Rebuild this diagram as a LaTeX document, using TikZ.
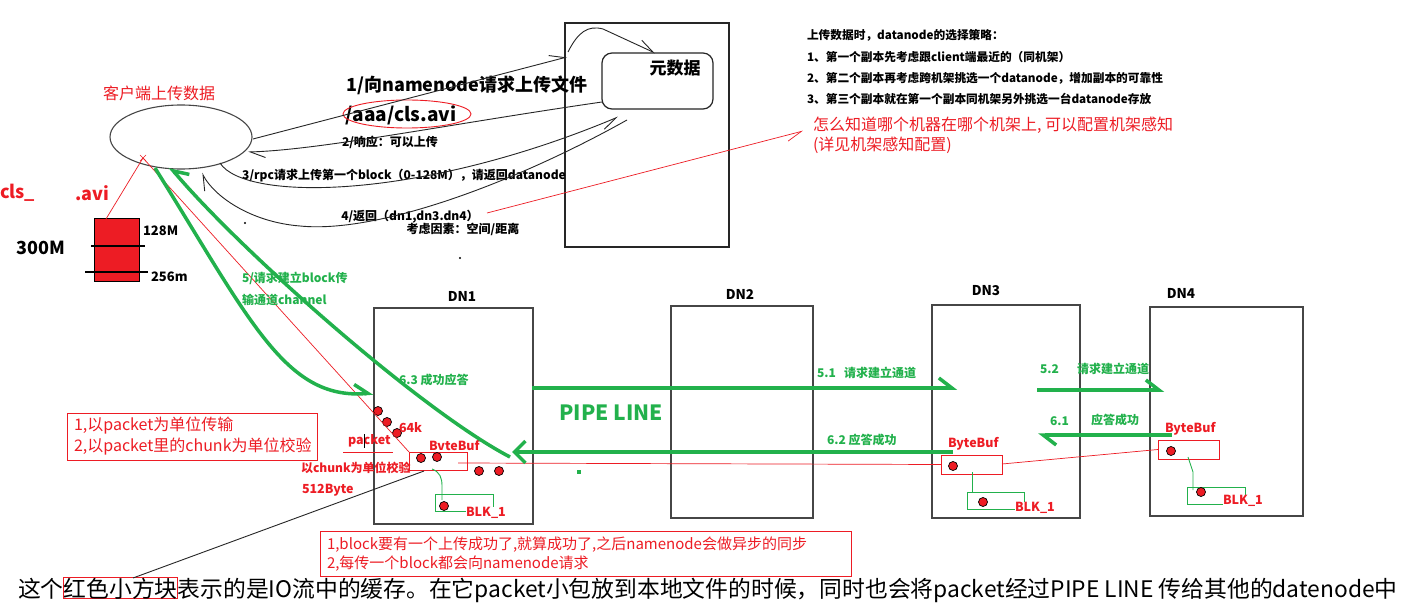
\documentclass[tikz,border=0pt]{standalone}
\usepackage{fontspec}
\setmainfont{Noto Sans CJK SC}
\usetikzlibrary{arrows.meta,shapes.geometric}
\definecolor{pgreen}{RGB}{34,177,76}
\definecolor{pred}{RGB}{237,28,36}
\definecolor{dgray}{RGB}{70,70,70}
\newcommand{\myfs}[1]{\fontsize{#1}{#1}\selectfont}
\begin{document}
\begin{tikzpicture}[x=1pt,y=-1pt,
 every node/.style={inner sep=0pt,outer sep=0pt},
 blk/.style={draw=black!85,line width=0.9pt},
 dnbox/.style={draw=dgray,line width=1.8pt,anchor=north west},
 gline/.style={draw=pgreen,line width=3.5pt},
 rline/.style={draw=pred,line width=0.7pt},
 rbox/.style={draw=pred,line width=1pt,anchor=north west},
 gbox/.style={draw=pgreen,line width=1pt,anchor=north west},
 rdot/.style={circle,fill=pred,draw=black,line width=0.7pt,minimum size=9pt},
 blbl/.style={font=\myfs{12}\bfseries,text=black},
 glbl/.style={font=\myfs{12}\bfseries,text=pgreen},
 rlbl/.style={font=\myfs{12.5}\bfseries,text=pred},
 dnlbl/.style={font=\myfs{13.5}\bfseries},
 harp/.style={-{Straight Barb[left,length=15pt,width=12pt]}},
 harpr/.style={-{Straight Barb[right,length=15pt,width=12pt]}},
 gharp/.style={-{Straight Barb[left,length=13pt,width=20pt]}},
 gharpr/.style={-{Straight Barb[right,length=13pt,width=20pt]}},
 gfull/.style={-{Straight Barb[length=11pt,width=22pt]}},
]
\fill[white] (0,0) rectangle (1411,612);
\useasboundingbox (0,0) rectangle (1411,612);

% ---------- client ----------
\node[ellipse,draw=dgray,line width=1.1pt,minimum width=142pt,minimum height=64pt] (client) at (181,137) {};
\node[font=\myfs{16},text=pred] (clientlbl) at (159,93) {客户端上传数据};
\node[font=\myfs{18}\bfseries,text=pred,anchor=west] (clsa) at (0,193) {cls\_};
\node[font=\myfs{18}\bfseries,text=pred,anchor=west] (clsb) at (75,193) {.avi};

% file block
\node[draw=black,line width=1pt,fill=pred,anchor=north west,minimum width=45pt,minimum height=63pt] (block) at (94,219) {};
\draw[black,line width=1.1pt] (91,246) -- (145,246);
\draw[black,line width=1.1pt] (85,272) -- (148,272);
\node[font=\myfs{18}\bfseries] (s300) at (41,248) {300M};
\node[font=\myfs{13}\bfseries,anchor=west] (s128) at (143,231) {128M};
\node[font=\myfs{13}\bfseries,anchor=west] (s256) at (151,277) {256m};

% ---------- namenode ----------
\node[draw=black!85,line width=1.2pt,anchor=north west,minimum width=164pt,minimum height=224pt] (nn) at (565,23) {};
\node[draw=black!85,line width=1.2pt,rounded corners=10pt,anchor=north west,minimum width=111pt,minimum height=56pt] (meta) at (602,53) {};
\node[font=\myfs{17}\bfseries] (metat) at (675,68) {元数据};
\coordinate (nsa) at (568,52);
\coordinate (nsb) at (655,53);
\draw[blk,harp] (nsa) .. controls (578,32) and (588,25) .. (603,29) -- (nsb);

% texts between client and namenode
\node[font=\myfs{18}\bfseries] (t1) at (467,85) {1/向namenode请求上传文件};
\node[font=\myfs{19}\bfseries] (tfile) at (401,115) {/aaa/cls.avi};
\node[ellipse,draw=pred,line width=0.9pt,minimum width=128pt,minimum height=28pt] (fileell) at (407,114) {};
\node[blbl] (t2) at (390,142) {2/响应：可以上传};
\node[blbl] (t3) at (404,176) {3/rpc请求上传第一个block（0-128M），请返回datanode};
\node[blbl] (t4) at (410,217) {4/返回（dn1,dn3.dn4）};
\node[blbl] (t4b) at (463,229) {考虑因素：空间/距离};
\fill (245,223) circle (1.2pt);
\fill (460,258) circle (1.2pt);

% client <-> namenode arrows
\coordinate (a1s) at (253,139);
\coordinate (a1e) at (567,57);
\draw[blk,harp] (a1s) -- (a1e);
\coordinate (a2s) at (602,102);
\coordinate (a2e) at (248,152);
\draw[blk,harp] (a2s) .. controls (450,124) and (320,150) .. (a2e);
\coordinate (a3s) at (220,163);
\coordinate (a3e) at (618,117);
\draw[blk,harpr] (a3s) .. controls (245,202) and (420,200) .. (a3e);
\coordinate (a4s) at (627,120);
\coordinate (a4m) at (300,226);
\coordinate (a4e) at (202,173);
\draw[blk,harp] (a4s) .. controls (520,180) and (380,234) .. (a4m) .. controls (250,222) and (214,196) .. (a4e);

% ---------- strategy text ----------
\node[blbl,font=\myfs{11.7}\bfseries,anchor=west] (s0) at (807,35) {上传数据时，datanode的选择策略：};
\node[blbl,font=\myfs{11.7}\bfseries,anchor=west] (s1) at (807,57) {1、第一个副本先考虑跟client端最近的（同机架）};
\node[blbl,font=\myfs{11.7}\bfseries,anchor=west] (s2) at (807,78) {2、第二个副本再考虑跨机架挑选一个datanode，增加副本的可靠性};
\node[blbl,font=\myfs{11.7}\bfseries,anchor=west] (s3) at (807,99) {3、第三个副本就在第一个副本同机架另外挑选一台datanode存放};
\node[font=\myfs{16},text=pred,anchor=west] (r1) at (813,125) {怎么知道哪个机器在哪个机架上, 可以配置机架感知};
\node[font=\myfs{16},text=pred,anchor=west] (r2) at (813,145) {(详见机架感知配置)};
\coordinate (rae) at (803,131);
\coordinate (ras) at (487,213);
\draw[rline,harpr] (ras) -- (rae);

% ---------- datanodes ----------
\node[dnbox,minimum width=159pt,minimum height=216pt] (dn1) at (374,308) {};
\node[dnbox,minimum width=142pt,minimum height=212pt] (dn2) at (671,306) {};
\node[dnbox,minimum width=148pt,minimum height=213pt] (dn3) at (932,305) {};
\node[dnbox,minimum width=153pt,minimum height=209pt] (dn4) at (1150,307) {};
\node[dnlbl] (dn1l) at (462,296) {DN1};
\node[dnlbl] (dn2l) at (740,294) {DN2};
\node[dnlbl] (dn3l) at (986,291) {DN3};
\node[dnlbl] (dn4l) at (1181,293) {DN4};

% buffers
\node[rbox,minimum width=58pt,minimum height=18pt] (bb1) at (409,452) {};
\node[rbox,minimum width=61pt,minimum height=19pt] (bb3) at (941,455) {};
\node[rbox,minimum width=61pt,minimum height=19pt] (bb4) at (1158,440) {};
\node[gbox,minimum width=58pt,minimum height=17pt] (blk1) at (435,494) {};
\node[gbox,minimum width=57pt,minimum height=17pt] (blk3) at (967,492) {};
\node[gbox,minimum width=58pt,minimum height=17pt] (blk4) at (1187,487) {};
\node[rlbl,anchor=west,fill=white] (blk1l) at (466,513) {BLK\_1};
\node[rlbl,anchor=west,fill=white] (blk3l) at (1015,508) {BLK\_1};
\node[rlbl,anchor=west,fill=white] (blk4l) at (1223,501) {BLK\_1};
\node[rlbl,anchor=west] (bb1l) at (429,446) {BvteBuf};
\node[rlbl,anchor=west] (bb3l) at (948,444) {ByteBuf};
\node[rlbl,anchor=west] (bb4l) at (1165,429) {ByteBuf};

% buffer -> block links
\draw[pgreen,line width=0.9pt] (432,469) .. controls (440,472) and (442,478) .. (442,486) -- (442,500);
\draw[pgreen,line width=0.9pt] (972,472) -- (972,492);
\draw[pgreen,line width=0.9pt] (1188,457) -- (1193,472) -- (1193,490);

% red data line through buffers
\coordinate (rl1) at (458,463);
\coordinate (rl3) at (1002,464);
\draw[rline] (rl1) -- (bb3.west);
\draw[rline] (rl3) -- (bb4.west);

% dots
\foreach \p/\n in {{(378,411)}/d1,{(387,422)}/d2,{(397,433)}/d3,{(421,458)}/d4,{(437,457)}/d5,{(479,471)}/d6,{(499,471)}/d7,{(444,506)}/d8,{(953,466)}/d9,{(983,502)}/d10,{(1171,451)}/d11,{(1201,492)}/d12}
  \node[rdot] (\n) at \p {};

% DN1 labels
\node[rlbl,anchor=west] (pk) at (348,441) {packet};
\draw[pred,line width=1pt] (343,452) -- (393,452);
\draw[black,line width=0.8pt] (364,434) -- (364,448);
\node[rlbl,anchor=west] (k64) at (399,428) {64k};
\node[rlbl,font=\myfs{12}\bfseries,anchor=west] (chk) at (301,468) {以chunk为单位校验};
\node[rlbl,anchor=west] (b512) at (302,490) {512Byte};

% left red box
\node[rbox,minimum width=250pt,minimum height=47pt] (lbox) at (67,413) {};
\node[font=\myfs{16},text=pred,anchor=west] (lb1) at (74,426) {1,以packet为单位传输};
\node[font=\myfs{16},text=pred,anchor=west] (lb2) at (74,447) {2,以packet里的chunk为单位校验};

% bottom red box
\node[rbox,minimum width=531pt,minimum height=45pt] (bbox) at (320,531) {};
\node[font=\myfs{15},text=pred,anchor=west] (bb1t) at (327,545) {1,block要有一个上传成功了,就算成功了,之后namenode会做异步的同步};
\node[font=\myfs{15},text=pred,anchor=west] (bb2t) at (327,564) {2,每传一个block都会向namenode请求};

% red thin lines from client
\coordinate (cx) at (143,158);
\draw[rline] (block.north west) ++(12,0) coordinate (bt) -- (cx);
\draw[pred,line width=0.6pt] (140,155) -- (146,161) (140,161) -- (146,155);
\draw[rline] (cx) -- (bb1.north west);

% ---------- green pipeline ----------
\coordinate (g5s) at (155,168);
\coordinate (g5e) at (373,393);
\draw[gline,gharp] (g5s) .. controls (250,320) and (285,400) .. (g5e);
\node[glbl,anchor=west] (g5l1) at (242,278) {5/请求建立block传};
\node[glbl,anchor=west] (g5l2) at (242,300) {输通道channel};

\coordinate (g63s) at (510,457);
\coordinate (g63e) at (170,167);
\draw[gline,gharpr] (g63s) .. controls (420,410) and (240,250) .. (g63e);
\node[glbl,anchor=west] (g63l) at (399,380) {6.3 成功应答};

\coordinate (g51s) at (532,388);
\coordinate (g51e) at (957,388);
\draw[gline,gharp] (g51s) -- (g51e);
\node[glbl,anchor=west] (g51a) at (817,373) {5.1};
\node[glbl,anchor=west] (g51b) at (844,373) {请求建立通道};

\coordinate (g62s) at (953,452);
\coordinate (g62e) at (512,452);
\draw[gline,gfull] (g62s) -- (g62e);
\node[glbl,anchor=west] (g62l) at (827,440) {6.2 应答成功};

\coordinate (g52s) at (1037,390);
\coordinate (g52e) at (1164,390);
\draw[gline,gharp] (g52s) -- (g52e);
\node[glbl,anchor=west] (g52a) at (1040,369) {5.2};
\node[glbl,anchor=west] (g52b) at (1077,369) {请求建立通道};

\coordinate (g61s) at (1172,435);
\coordinate (g61e) at (1038,435);
\draw[gline,gharp] (g61s) -- (g61e);
\node[glbl,anchor=west] (g61a) at (1050,421) {6.1};
\node[glbl,anchor=west] (g61b) at (1091,420) {应答成功};

\node[font=\myfs{21}\bfseries,text=pgreen] (pipe) at (611,413) {PIPE LINE};
\fill[pgreen] (577,470) rectangle (581,474);

% ---------- bottom sentence ----------
\node[font=\myfs{22.8},anchor=base west] (bt1) at (18,597) {这个};
\node[font=\myfs{22.8},anchor=base west,draw=pred,line width=1.2pt] (bt2) at (bt1.base east) {红色小方块};
\node[font=\myfs{22.8},anchor=base west] (bt3) at (bt2.base east) {表示的是IO流中的缓存。在它packet小包放到本地文件的时候，同时也会将packet经过PIPE LINE 传给其他的datenode中};
\coordinate (blkls) at (424,471);
\coordinate (blkle) at (133,578);
\draw[black!85,line width=0.9pt] (blkls) -- (blkle);
\end{tikzpicture}
\end{document}
